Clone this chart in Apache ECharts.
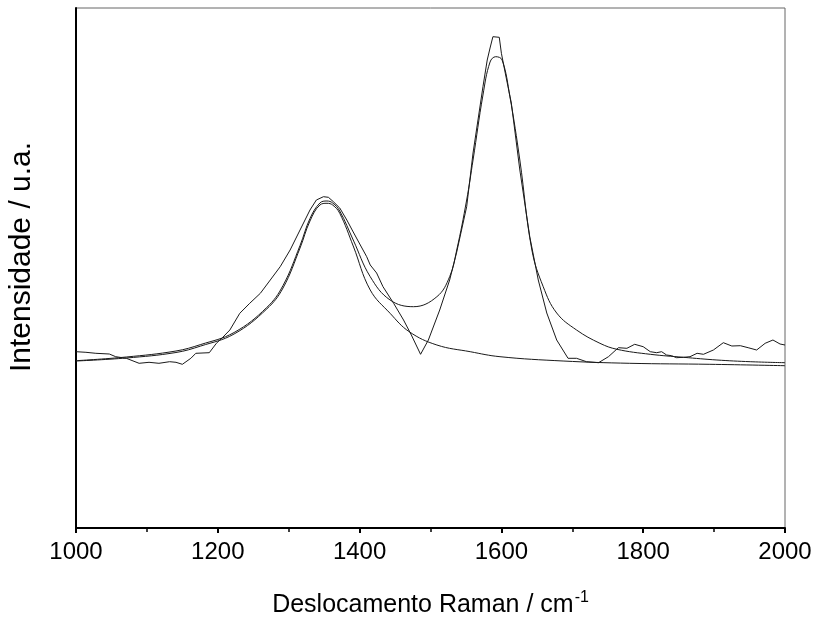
<!DOCTYPE html>
<html>
<head>
<meta charset="utf-8">
<script src="https://cdn.jsdelivr.net/npm/echarts@6/dist/echarts.min.js"></script>
<style>
html,body{margin:0;padding:0;background:#fff;}
#chart{width:817px;height:617px;}
</style>
</head>
<body>
<div id="chart"></div>
<script>
// Raman shift (cm-1) and intensity (a.u.)
var xTicks = [1000, 1200, 1400, 1600, 1800, 2000];

var expX = [1000,1014,1028,1047,1056,1071,1089,1103,1117,1132,1141,1150,1162,1169,1188,1198,1207,1217,1231,1245,1260,1274,1288,1302,1316,1330,1339,1349,1356,1363,1372,1382,1391,1401,1410,1415,1424,1433,1448,1462,1473,1486,1497,1513,1527,1537,1551,1560,1574,1580,1584,1588,1597,1600,1606,1614,1626,1640,1652,1664,1678,1694,1706,1720,1737,1751,1765,1777,1788,1800,1810,1819,1826,1833,1840,1847,1857,1866,1876,1885,1899,1913,1925,1937,1948,1960,1972,1983,1993,2000];
var expY = [176.3,175.7,174.7,174,171.3,169.7,164.7,165.7,164.7,166.3,165.7,163.7,169.7,174.7,175.3,184.7,190.7,198,214.7,224.7,234.7,248,261.3,278,298,318,328,331.3,330.7,326.3,320,308,296,283,271.3,263,255,241.3,224.7,208,193,173.7,188,218,248,276,321.3,375,441.3,468,480,491.3,490.7,474.7,453,425,358,291.3,248,215,188,169.7,169.7,166.3,165.3,171.3,180.3,179.7,183.7,181.3,176.3,175.3,176.3,173,172.3,170.3,170.7,171.3,174.7,173.7,178,185.3,182,182.3,180.3,178,184.7,188,184,183];

var fitX = [1000,1071,1141,1176,1223,1269,1292,1316,1330,1344,1354,1362,1372,1391,1415,1443,1476,1509,1527,1537,1551,1560,1574,1584,1592,1601,1612,1626,1643,1659,1678,1706,1739,1763,1810,1857,1904,1951,2000];
var fitY = [167.3,171,177,183.5,195.5,220.5,242.5,282.5,309.5,325,327,325,317,288,251.3,228,221.3,231.3,251.3,278,328,368,433,466,471.3,468,431.3,368,278,241.3,215,198,184.7,178.7,173.7,170.7,168,166.3,165.3];

var dX = [1000,1071,1141,1176,1223,1269,1292,1316,1330,1344,1354,1362,1372,1391,1415,1443,1470,1509,1556,1598,1687,1781,1894,2000];
var dY = [167,170,175.5,182,194,219,240,280,307,323,324.7,323,314.7,282,238,214.7,196.3,183,176.3,171.3,167,164.7,163.7,162.3];

function pairs(xs, ys){ return xs.map(function(x,i){ return [x, ys[i]]; }); }

var chart = echarts.init(document.getElementById('chart'), null, {renderer:'canvas'});
var lineCol = '#1a1a1a';
var ff = 'Liberation Sans, Arial, sans-serif';
chart.setOption({
  animation:false,
  backgroundColor:'#ffffff',
  grid:{left:76,right:32,top:8,bottom:89,show:true,borderColor:'#666666',borderWidth:1,containLabel:false,outerBoundsMode:'none'},
  xAxis:{
    type:'value', min:xTicks[0], max:xTicks[xTicks.length-1], interval:200,
    name:'{m|Deslocamento Raman / cm}{s|-1}', nameLocation:'middle', nameGap:62,
    nameTextStyle:{rich:{
      m:{fontFamily:ff, fontSize:25, color:'#000'},
      s:{fontFamily:ff, fontSize:16, color:'#000', verticalAlign:'top', padding:[0,0,14,1]}
    }},
    axisLine:{show:true,onZero:false,lineStyle:{color:'#000',width:2}},
    axisTick:{show:true,inside:false,length:5,lineStyle:{color:'#000',width:2}},
    minorTick:{show:true,splitNumber:2,length:4,lineStyle:{color:'#000',width:1.5}},
    axisLabel:{fontFamily:ff,fontSize:24,color:'#000',margin:12,formatter:function(v){return String(v);}},
    splitLine:{show:false}, minorSplitLine:{show:false}
  },
  yAxis:{
    type:'value', min:0, max:520,
    name:'Intensidade / u.a.', nameLocation:'middle', nameGap:39, nameRotate:90,
    nameTextStyle:{fontFamily:ff, fontSize:30, color:'#000', padding:[0,0,0,22]},
    axisLine:{show:true,onZero:false,lineStyle:{color:'#000',width:2}},
    axisTick:{show:false}, axisLabel:{show:false}, splitLine:{show:false}
  },
  series:[
    {type:'line', data:pairs(dX,dY), smooth:0.4, showSymbol:false, lineStyle:{color:lineCol,width:1}},
    {type:'line', data:pairs(fitX,fitY), smooth:0.4, showSymbol:false, lineStyle:{color:lineCol,width:1}},
    {type:'line', data:pairs(expX,expY), smooth:false, showSymbol:false, lineStyle:{color:lineCol,width:1}}
  ]
});
</script>
</body>
</html>
